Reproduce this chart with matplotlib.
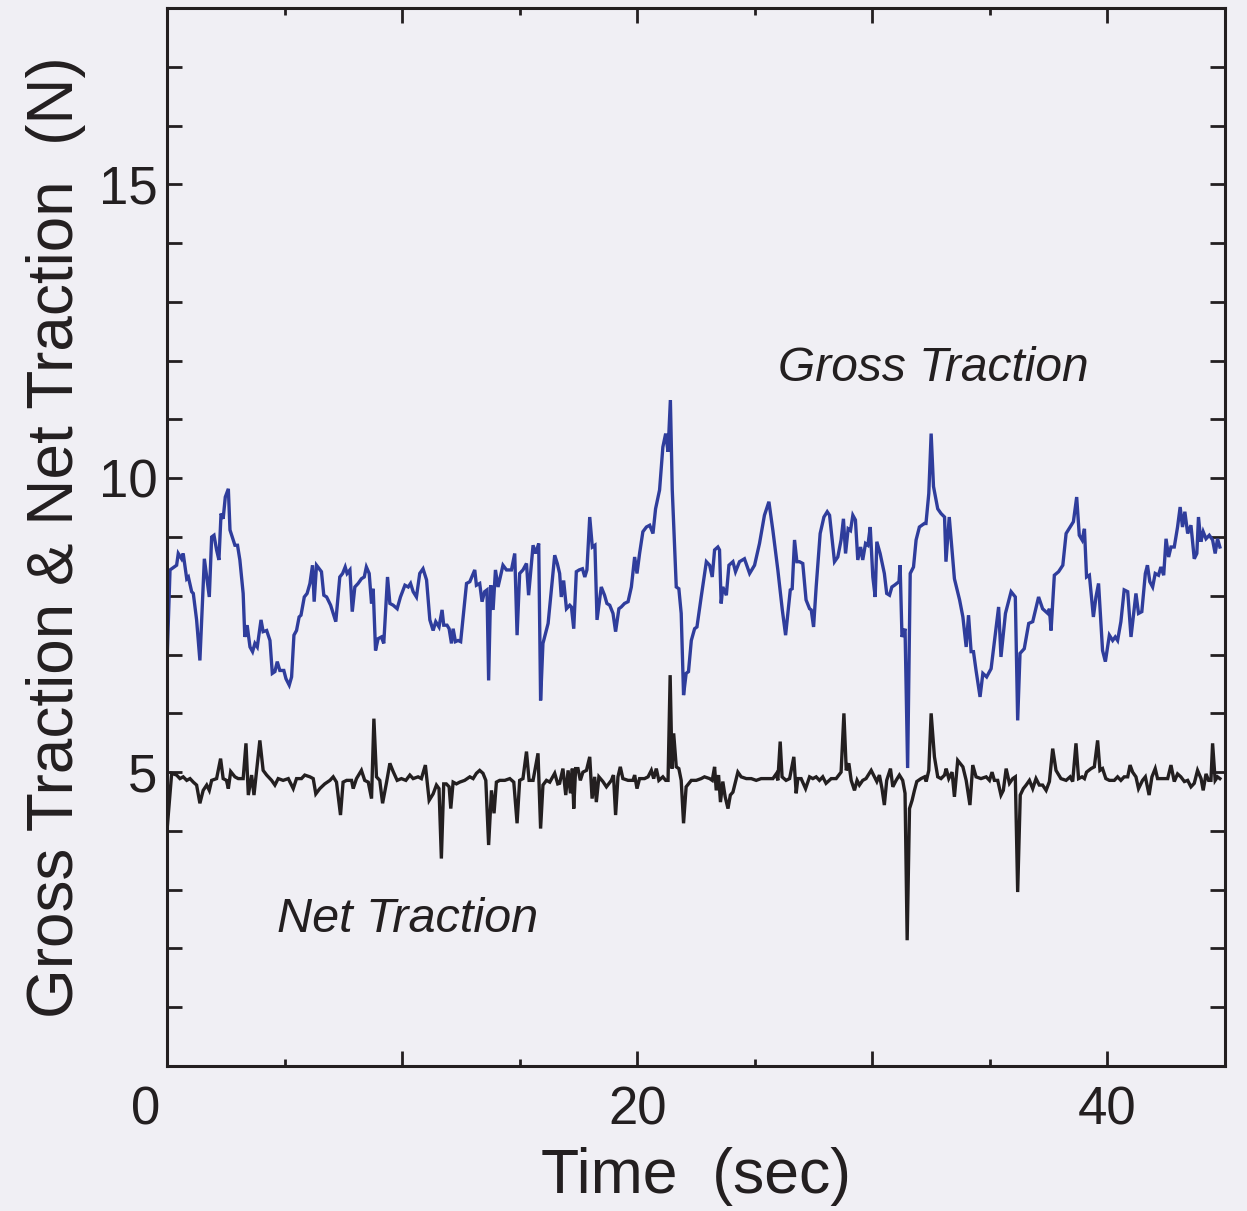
import matplotlib
matplotlib.use("Agg")
import matplotlib.pyplot as plt
from matplotlib.ticker import MultipleLocator, FixedLocator
import matplotlib.transforms as mtransforms

# ---------------- data ----------------
gross_t = [0.00, 0.13, 0.41, 0.48, 0.62, 0.69, 0.84, 0.91, 1.05, 1.12, 1.26, 1.40, 1.59, 1.69, 1.80,
           1.90, 2.00, 2.11, 2.21, 2.30, 2.39, 2.48, 2.61, 2.68, 2.89, 3.00, 3.10, 3.24, 3.31, 3.41,
           3.53, 3.64, 3.74, 3.84, 4.00, 4.09, 4.24, 4.38, 4.48, 4.59, 4.69, 4.80, 4.97, 5.06, 5.20,
           5.30, 5.40, 5.51, 5.62, 5.70, 5.84, 5.96, 6.08, 6.19, 6.26, 6.36, 6.57, 6.67, 6.79, 6.96,
           7.18, 7.35, 7.47, 7.58, 7.66, 7.78, 7.88, 7.99, 8.13, 8.27, 8.39, 8.48, 8.60, 8.70, 8.77,
           8.87, 8.98, 9.12, 9.22, 9.38, 9.48, 9.62, 9.79, 9.93, 10.12, 10.26, 10.36, 10.47, 10.61,
           10.75, 10.89, 11.04, 11.18, 11.32, 11.43, 11.57, 11.70, 11.77, 11.91, 12.00, 12.10, 12.17,
           12.27, 12.38, 12.49, 12.74, 12.88, 13.09, 13.16, 13.30, 13.40, 13.51, 13.61, 13.68, 13.77,
           13.87, 13.97, 14.08, 14.29, 14.44, 14.65, 14.79, 14.89, 15.00, 15.14, 15.29, 15.38, 15.57,
           15.68, 15.81, 15.89, 15.99, 16.21, 16.49, 16.60,
           16.70, 16.77, 16.87, 16.99, 17.13, 17.20, 17.30, 17.41, 17.53, 17.67, 17.77, 17.86, 17.98,
           18.09, 18.20, 18.29, 18.47, 18.61, 18.71, 18.83, 18.97, 19.08, 19.22, 19.32, 19.46, 19.61,
           19.75, 19.89, 19.99, 20.10, 20.24, 20.39, 20.53, 20.67, 20.78, 20.95, 21.09, 21.21, 21.31,
           21.41, 21.49, 21.66, 21.77, 21.87, 21.97, 22.08, 22.18, 22.30, 22.44, 22.54, 22.72, 22.94,
           23.08, 23.19, 23.29, 23.43, 23.50, 23.57, 23.64, 23.79, 23.90, 24.07, 24.18, 24.35, 24.56,
           24.78, 24.99, 25.20, 25.41, 25.60, 25.77, 25.98, 26.17, 26.31, 26.51, 26.59, 26.69, 26.79,
           26.90, 27.04, 27.18, 27.33, 27.40, 27.50, 27.61, 27.78, 27.94, 28.08, 28.18, 28.29, 28.39,
           28.53, 28.67, 28.77, 28.86, 28.97, 29.07, 29.17, 29.28, 29.38, 29.50, 29.59, 29.71, 29.81,
           29.91, 30.02, 30.12, 30.19, 30.33, 30.51, 30.61, 30.73, 30.83, 30.94, 31.13, 31.18, 31.26,
           31.39, 31.50, 31.61, 31.75, 31.86, 32.00, 32.21, 32.28, 32.40, 32.50, 32.60, 32.78, 32.92,
           33.07, 33.13, 33.27, 33.49, 33.71, 33.85,
           33.99, 34.09, 34.20, 34.30, 34.41, 34.58, 34.70, 34.86, 35.05, 35.19, 35.37, 35.47, 35.66,
           35.90, 36.08, 36.18, 36.28, 36.46, 36.65, 36.82, 37.07, 37.24, 37.46, 37.53, 37.60, 37.74,
           37.92, 38.10, 38.24, 38.41, 38.55, 38.69, 38.80, 38.92, 39.02, 39.11, 39.23, 39.40, 39.51,
           39.62, 39.79, 39.91, 40.08, 40.22, 40.33, 40.43, 40.57, 40.71, 40.86, 41.00, 41.21, 41.32,
           41.46, 41.61, 41.70, 41.80, 41.92, 42.03, 42.17, 42.27, 42.39, 42.49, 42.60, 42.70, 42.84,
           42.98, 43.09, 43.19, 43.29, 43.41, 43.55, 43.69, 43.80, 43.87, 43.97, 44.07, 44.19, 44.33,
           44.47, 44.58, 44.68, 44.78]
gross_v = [6.85, 8.44, 8.52, 8.72, 8.63, 8.72, 8.29, 8.32, 8.07, 8.04, 7.59, 6.90, 8.63, 8.32, 7.98,
           9.00, 9.03, 8.78, 8.61, 9.40, 9.31, 9.68, 9.82, 9.12, 8.86, 8.86, 8.61, 8.04, 7.30, 7.50,
           7.13, 7.05, 7.19, 7.13, 7.59, 7.39, 7.41, 7.24, 6.68, 6.71, 6.88, 6.73, 6.73, 6.59, 6.48,
           6.62, 7.33, 7.41, 7.64, 7.67, 7.98, 8.04, 8.21, 8.52, 7.90, 8.52, 8.41, 8.01, 7.98, 7.84,
           7.56, 8.32, 8.38, 8.49, 8.38, 8.44, 7.73, 8.15, 8.21, 8.29, 8.32, 8.49, 8.38, 7.87, 8.12,
           7.07, 7.27, 7.30, 7.19, 8.32, 7.87, 7.84, 7.78, 7.98, 8.18, 8.15, 8.21, 8.07, 7.98,
           8.38, 8.46, 8.27, 7.59, 7.41, 7.56, 7.47, 7.76, 7.50, 7.50, 7.44, 7.19, 7.44,
           7.22, 7.24, 7.22, 8.21, 8.24, 8.44, 8.18, 8.21, 7.90, 8.07, 8.10, 6.56, 8.18,
           7.76, 8.44, 8.15, 8.52, 8.44, 8.44, 8.72, 7.33, 8.38, 8.44, 8.55, 8.01, 8.86,
           8.72, 8.89, 6.22, 7.19, 7.53, 8.69, 8.55,
           8.38, 7.98, 8.26, 7.78, 7.84, 7.81, 7.44, 8.41, 8.44, 8.46, 8.32, 8.44, 9.34,
           8.83, 8.86, 7.59, 8.15, 8.01, 7.87, 7.84, 7.70, 7.39, 7.78, 7.81, 7.87, 7.90,
           8.15, 8.66, 8.38, 8.72, 9.09, 9.17, 9.20, 9.06, 9.48, 9.80, 10.53, 10.76, 10.45,
           11.33, 9.80, 8.15, 8.12, 7.70, 6.31, 6.68, 6.71, 7.24, 7.44, 7.47, 7.98, 8.58,
           8.52, 8.32, 8.78, 8.83, 8.78, 7.87, 8.15, 8.01, 8.52, 8.58, 8.41, 8.58, 8.63,
           8.38, 8.52, 8.89, 9.37, 9.60, 9.11, 8.44, 7.76, 7.33, 8.10, 8.12, 8.95, 8.58,
           8.58, 8.55, 7.93, 7.78, 7.76, 7.47, 8.15, 9.06, 9.34, 9.43, 9.37, 8.95, 8.58,
           8.66, 8.95, 9.31, 8.72, 9.14, 9.11, 9.37, 9.29, 8.61, 8.83, 8.61, 8.89, 8.86,
           9.17, 8.32, 7.98, 8.92, 8.72, 8.38, 8.04, 8.01, 8.15, 8.18, 8.24, 8.52, 7.30,
           7.44, 5.07, 8.38, 8.49, 8.95, 9.17, 9.23, 9.23, 9.74, 10.76, 9.86, 9.48, 9.40,
           9.34, 8.58, 9.34, 8.29, 7.93, 7.64,
           7.13, 7.67, 7.05, 7.05, 6.73, 6.28, 6.68, 6.62, 6.76, 7.22, 7.81, 6.96, 7.70,
           8.07, 7.98, 5.88, 7.02, 7.10, 7.53, 7.56, 7.98, 7.78, 7.70, 7.78, 7.41, 8.35,
           8.41, 8.52, 9.06, 9.17, 9.26, 9.68, 9.03, 8.95, 9.14, 8.32, 8.35, 7.64, 7.98,
           8.21, 7.07, 6.88, 7.33, 7.24, 7.30, 7.24, 7.56, 8.10, 8.07, 7.30, 8.04, 7.70,
           7.73, 8.38, 8.52, 8.24, 8.15, 8.38, 8.35, 8.49, 8.35, 8.97, 8.66, 8.83, 8.83,
           9.17, 9.51, 9.17, 9.43, 9.06, 9.20, 8.63, 8.72, 9.34, 8.92, 9.09, 8.97, 9.03,
           8.95, 8.72, 8.97, 8.83]

net_t = [0.00, 0.20, 0.41, 0.55, 0.69, 0.84, 0.98, 1.12, 1.26, 1.40, 1.54, 1.69, 1.80, 1.90, 2.11,
         2.28, 2.39, 2.53, 2.61, 2.71, 2.89, 3.03, 3.24, 3.36, 3.46, 3.60, 3.70, 3.95, 4.09, 4.24,
         4.45, 4.59, 4.73, 4.94, 5.16, 5.37, 5.51, 5.72, 5.86, 6.08, 6.22, 6.33, 6.50, 6.71, 6.93,
         7.07, 7.21, 7.38, 7.49, 7.64, 7.85, 7.92, 8.06, 8.27, 8.41, 8.56, 8.70, 8.80, 8.91, 9.05,
         9.17, 9.34, 9.48, 9.62, 9.79, 9.97, 10.16, 10.33, 10.47, 10.68, 10.82, 10.99, 11.15, 11.32,
         11.46, 11.57, 11.67, 11.77, 11.88, 12.00, 12.07, 12.17, 12.31, 12.45, 12.66, 12.88, 13.02,
         13.16, 13.30, 13.44, 13.56, 13.68, 13.80, 13.91, 14.01, 14.15, 14.37, 14.58, 14.75, 14.89,
         15.00, 15.14, 15.29, 15.40, 15.57, 15.78, 15.89, 15.99, 16.14, 16.28, 16.49, 16.62,
         16.70, 16.84, 16.96, 17.06, 17.16, 17.24, 17.30, 17.38, 17.48, 17.58, 17.69, 17.84, 17.98,
         18.08, 18.19, 18.26, 18.37, 18.54, 18.69, 18.90, 18.99, 19.08, 19.18, 19.28, 19.39, 19.61,
         19.82, 19.89, 19.99, 20.10, 20.31, 20.46, 20.60, 20.70, 20.81, 20.92, 21.09, 21.21, 21.31,
         21.40, 21.48, 21.55, 21.66, 21.77, 21.87, 21.97, 22.08, 22.30, 22.51, 22.72, 22.86, 23.08,
         23.19, 23.29, 23.36, 23.46, 23.54, 23.64, 23.74, 23.86, 23.96, 24.07, 24.28, 24.42, 24.64,
         24.85, 25.06, 25.27, 25.48, 25.77, 25.91, 25.98, 26.08, 26.16, 26.33, 26.48, 26.66, 26.76,
         26.83, 26.97, 27.16, 27.33, 27.47, 27.61, 27.75, 27.89, 28.03, 28.25, 28.46, 28.67, 28.79,
         28.89, 29.00, 29.10, 29.24, 29.35, 29.45, 29.59, 29.73, 29.95, 30.09, 30.19, 30.30, 30.41,
         30.51, 30.61, 30.77, 30.87, 31.01, 31.15, 31.29, 31.39, 31.48, 31.58, 31.69, 31.79, 31.89,
         32.07, 32.22, 32.29, 32.40, 32.50, 32.64, 32.78, 32.92, 33.07, 33.14, 33.25, 33.39, 33.49,
         33.63, 33.85,
         33.99, 34.15, 34.27, 34.41, 34.62, 34.84, 34.98, 35.09, 35.19, 35.33, 35.47, 35.57, 35.69,
         35.83, 35.97, 36.08, 36.18, 36.29, 36.42, 36.54, 36.68, 36.82, 36.96, 37.10, 37.24, 37.39,
         37.53, 37.67, 37.81, 38.02, 38.24, 38.41, 38.52, 38.66, 38.77, 38.92, 39.02, 39.11, 39.30,
         39.44, 39.58, 39.68, 39.79, 39.93, 40.08, 40.29, 40.43, 40.57, 40.71, 40.86, 40.96, 41.07,
         41.21, 41.32, 41.49, 41.61, 41.77, 41.89, 42.03, 42.13, 42.34, 42.56, 42.70, 42.84, 42.98,
         43.12, 43.27, 43.41, 43.55, 43.69, 43.83, 43.98, 44.07, 44.19, 44.30, 44.40, 44.47, 44.58,
         44.68, 44.78]
net_v = [4.00, 4.98, 4.95, 4.89, 4.92, 4.86, 4.89, 4.83, 4.78, 4.47, 4.69, 4.78, 4.69, 4.86, 4.89,
         5.23, 4.89, 4.86, 4.72, 5.01, 4.92, 4.89, 4.89, 5.49, 4.61, 4.95, 4.61, 5.54, 5.03, 4.95,
         4.86, 4.78, 4.89, 4.86, 4.89, 4.72, 4.89, 4.89, 4.95, 4.92, 4.89, 4.63, 4.72, 4.80, 4.86,
         4.92, 4.83, 4.27, 4.83, 4.86, 4.86, 4.72, 4.89, 5.03, 4.86, 4.83, 4.55, 5.91, 4.92, 4.86,
         4.47, 4.83, 5.15, 5.01, 4.86, 4.89, 4.86, 4.95, 4.89, 4.92, 4.89, 5.12, 4.52, 4.63,
         4.78, 4.72, 3.53, 4.80, 4.80, 4.75, 4.38, 4.83, 4.80, 4.83, 4.86, 4.92, 4.89,
         4.98, 5.03, 4.98, 4.86, 3.76, 4.69, 4.30, 4.83, 4.86, 4.86, 4.89, 4.83, 4.13,
         4.86, 4.89, 5.35, 4.86, 4.86, 5.32, 4.04, 4.78, 4.86, 4.83, 4.98, 4.80,
         4.81, 5.06, 4.61, 5.03, 4.64, 5.06, 4.38, 5.06, 5.06, 4.86, 5.00, 5.03, 5.26,
         4.55, 4.92, 4.49, 4.92, 4.84, 4.75, 4.86, 4.95, 4.27, 4.92, 5.09, 4.89, 4.86,
         4.86, 4.95, 4.72, 4.89, 4.89, 4.92, 5.03, 4.89, 5.06, 4.86, 4.92, 4.86, 4.86,
         6.65, 5.06, 5.66, 5.09, 5.06, 4.86, 4.13, 4.75, 4.86, 4.86, 4.89, 4.92, 4.89,
         4.86, 5.09, 4.69, 4.95, 4.49, 4.84, 4.58, 4.38, 4.61, 4.66, 5.00, 4.92, 4.89,
         4.89, 4.86, 4.89, 4.89, 4.89, 4.97, 4.86, 5.52, 4.92, 4.86, 4.89, 5.26, 4.64,
         4.89, 4.89, 4.72, 4.92, 4.89, 4.92, 4.86, 4.92, 4.81, 4.89, 4.89, 5.00, 6.00,
         5.03, 5.15, 4.86, 4.69, 4.86, 4.78, 4.86, 4.89, 5.03, 4.92, 4.84, 4.95, 4.72,
         4.44, 4.86, 5.06, 4.75, 4.86, 4.95, 4.86, 4.64, 2.14, 4.38, 4.52, 4.69, 4.84,
         4.89, 4.92, 4.84, 5.03, 6.00, 5.26, 4.92, 4.89, 4.95, 5.06, 4.89, 5.00, 4.58,
         5.20, 5.09,
         4.86, 4.44, 5.12, 4.92, 4.89, 4.92, 4.86, 5.00, 4.86, 4.86, 4.61, 4.69, 5.06,
         4.81, 4.89, 4.92, 2.96, 4.61, 4.72, 4.78, 4.86, 4.72, 4.89, 4.78, 4.78, 4.69,
         4.84, 5.40, 5.03, 4.89, 4.86, 4.92, 4.84, 5.49, 4.89, 4.92, 4.89, 5.00, 5.06,
         5.09, 5.54, 5.03, 5.06, 4.89, 4.86, 4.86, 4.92, 4.86, 4.92, 4.92, 5.12, 5.00,
         4.92, 4.72, 4.86, 4.92, 4.61, 4.92, 5.06, 4.89, 4.89, 4.89, 5.12, 4.84, 4.97,
         4.92, 4.84, 4.86, 4.75, 4.81, 5.03, 4.89, 4.69, 4.97, 4.86, 4.86, 5.49, 4.86,
         4.92, 4.89]

x_major = [0, 10, 20, 30, 40]
x_labels = ["0", "", "20", "", "40"]
y_labels = {5: "5", 10: "10", 15: "15"}

# ---------------- styling ----------------
BG = "#f0eff4"
INK = "#231f20"
BLUE = "#2f3d9c"

plt.rcParams["font.family"] = ["Liberation Sans", "DejaVu Sans"]

fig = plt.figure(figsize=(12.47, 12.11), dpi=100, facecolor=BG)
ax = fig.add_axes([0.1339, 0.1197, 0.8485, 0.8737])
ax.set_facecolor(BG)

ax.plot(gross_t, gross_v, color=BLUE, lw=2.4, solid_joinstyle="miter")
ax.plot(net_t, net_v, color=INK, lw=2.4, solid_joinstyle="miter")

ax.set_xlim(0, 45)
ax.set_ylim(0, 18)

ax.xaxis.set_major_locator(FixedLocator(x_major))
ax.set_xticklabels(x_labels)
ax.xaxis.set_minor_locator(MultipleLocator(5))
yt = list(range(0, 19))
ax.set_yticks(yt)
ax.set_yticklabels([y_labels.get(v, "") for v in yt])

for s in ax.spines.values():
    s.set_linewidth(2.2)
    s.set_color(INK)

ax.tick_params(which="both", direction="in", top=True, right=True, color=INK, width=2.0)
ax.tick_params(axis="x", which="major", length=11, pad=14, labelsize=38, labelcolor=INK)
ax.tick_params(axis="x", which="minor", length=5)
ax.tick_params(axis="y", which="major", length=11, pad=7, labelsize=38, labelcolor=INK)

# shift the "0" label left of the corner
lbl0 = ax.get_xticklabels()[0]
lbl0.set_ha("right")
lbl0.set_transform(lbl0.get_transform() + mtransforms.ScaledTranslation(-5 / 72, 0, fig.dpi_scale_trans))

ax.set_xlabel("Time  (sec)", fontsize=45, color=INK, labelpad=8)
ax.set_ylabel("Gross Traction & Net Traction  (N)", fontsize=46, color=INK, labelpad=9)

ax.text(25.97, 11.65, "Gross Traction", fontsize=34.5, style="italic", color=INK,
        ha="left", va="baseline")
ax.text(4.67, 2.28, "Net Traction", fontsize=35, style="italic", color=INK,
        ha="left", va="baseline")

fig.savefig("out.png", dpi=100, facecolor=BG)
